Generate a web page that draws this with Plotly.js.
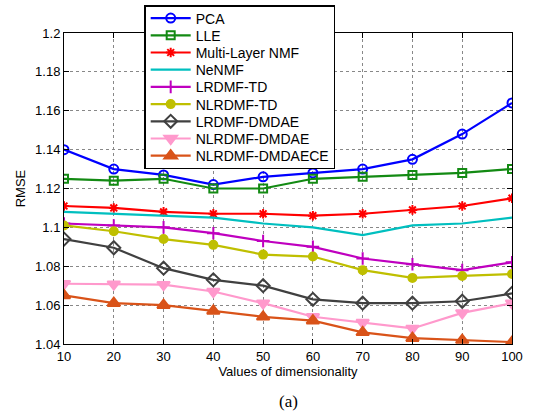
<!DOCTYPE html>
<html>
<head>
<meta charset="utf-8">
<script src="https://cdn.plot.ly/plotly-3.0.1.min.js"></script>
<style>html,body{margin:0;padding:0;background:#fff;}#chart{width:533px;height:416px;}</style>
</head>
<body>
<div id="chart"></div>
<script>
const dims = [10, 20, 30, 40, 50, 60, 70, 80, 90, 100];
const seriesNames = ["PCA", "LLE", "Multi-Layer NMF", "NeNMF", "LRDMF-TD", "NLRDMF-TD", "LRDMF-DMDAE", "NLRDMF-DMDAE", "NLRDMF-DMDAECE"];
const pca = [1.140, 1.130, 1.127, 1.122, 1.126, 1.128, 1.130, 1.135, 1.148, 1.164];
const lle = [1.125, 1.124, 1.125, 1.120, 1.120, 1.125, 1.126, 1.127, 1.128, 1.130];
const mlnmf = [1.111, 1.110, 1.108, 1.107, 1.107, 1.106, 1.107, 1.109, 1.111, 1.115];
const nenmf = [1.108, 1.107, 1.106, 1.105, 1.102, 1.100, 1.096, 1.101, 1.102, 1.105];
const lrdmfTd = [1.102, 1.101, 1.100, 1.097, 1.093, 1.090, 1.084, 1.081, 1.078, 1.082];
const nlrdmfTd = [1.101, 1.098, 1.094, 1.091, 1.086, 1.085, 1.078, 1.074, 1.075, 1.076];
const lrdmfDmdae = [1.094, 1.0895, 1.079, 1.073, 1.070, 1.063, 1.061, 1.061, 1.062, 1.066];
const nlrdmfDmdae = [1.071, 1.0708, 1.0705, 1.067, 1.061, 1.054, 1.051, 1.048, 1.056, 1.061];
const nlrdmfDmdaece = [1.065, 1.061, 1.060, 1.057, 1.054, 1.052, 1.046, 1.043, 1.042, 1.041];
const yTickVals = [1.04, 1.06, 1.08, 1.10, 1.12, 1.14, 1.16, 1.18, 1.20];
const yTickText = ["1.04", "1.06", "1.08", "1.1", "1.12", "1.14", "1.16", "1.18", "1.2"];

const allValues = [pca, lle, mlnmf, nenmf, lrdmfTd, nlrdmfTd, lrdmfDmdae, nlrdmfDmdae, nlrdmfDmdaece];
const styles = [
  {color: "#0000ff", symbol: "circle-open", size: 9, fill: null},
  {color: "#138a13", symbol: "square-open", size: 8, fill: null},
  {color: "#ff0000", symbol: "asterisk-open", size: 8, fill: null},
  {color: "#00bfbf", symbol: null, size: 0, fill: null},
  {color: "#bf00bf", symbol: "cross-thin-open", size: 9, fill: null},
  {color: "#bfbf00", symbol: "circle", size: 8, fill: "#bfbf00"},
  {color: "#404040", symbol: "diamond-open", size: 10, fill: null},
  {color: "#ff99cc", symbol: "triangle-down", size: 11, fill: "#ff99cc"},
  {color: "#d95319", symbol: "triangle-up", size: 11, fill: "#d95319"}
];

const traces = seriesNames.map((name, i) => {
  const s = styles[i];
  const t = {
    x: dims, y: allValues[i], name: name, type: "scatter",
    mode: s.symbol ? "lines+markers" : "lines",
    line: {color: s.color, width: 2.2}
  };
  if (s.symbol) {
    t.marker = {symbol: s.symbol, size: s.size, color: s.fill || s.color,
      line: {color: s.color, width: 2}};
  }
  return t;
});

const axisFont = {family: "Liberation Sans, Arial, sans-serif", size: 13, color: "#000"};
const layout = {
  width: 533, height: 416,
  margin: {l: 64, r: 21, t: 33, b: 72, autoexpand: false},
  paper_bgcolor: "#fff", plot_bgcolor: "#fff",
  showlegend: true,
  font: axisFont,
  xaxis: {
    range: [10, 100], tickvals: dims, ticks: "inside", ticklen: 5, tickcolor: "#000",
    showline: true, linecolor: "#000", linewidth: 1, mirror: "allticks",
    showgrid: true, gridcolor: "#888", griddash: "dot", gridwidth: 1, zeroline: false,
    tickfont: axisFont,
    title: {text: "Values of dimensionality", font: axisFont, standoff: 2}
  },
  yaxis: {
    range: [1.04, 1.20], tickvals: yTickVals, ticktext: yTickText, ticks: "inside", ticklen: 5, tickcolor: "#000",
    showline: true, linecolor: "#000", linewidth: 1, mirror: "allticks",
    showgrid: true, gridcolor: "#888", griddash: "dot", gridwidth: 1, zeroline: false,
    tickfont: axisFont,
    title: {text: "RMSE", font: axisFont, standoff: 6}
  },
  legend: {
    x: 0.179, y: 1.090, xanchor: "left", yanchor: "top",
    bgcolor: "#fff", bordercolor: "#000", borderwidth: 1.5,
    font: {family: "Liberation Sans, Arial, sans-serif", size: 14, color: "#000"},
    tracegroupgap: 0, itemwidth: 40
  },
  annotations: [{
    text: "(a)", xref: "paper", yref: "paper", x: 0.5, y: -0.186, yanchor: "middle", showarrow: false,
    font: {family: "Liberation Serif, DejaVu Serif, serif", size: 17, color: "#000"}
  }]
};

// Tighten legend row spacing to match the reference (Plotly has a minimum row height).
function tightenLegend() {
  const items = Array.from(document.querySelectorAll("#chart .legend .traces"));
  if (!items.length) return;
  const parse = el => {
    const m = /translate\(\s*([-\d.]+)[ ,]+([-\d.]+)\s*\)/.exec(el.getAttribute("transform") || "");
    return m ? [parseFloat(m[1]), parseFloat(m[2])] : [0, 0];
  };
  const first = parse(items[0]);
  const last = parse(items[items.length - 1]);
  const spacing = 17.2, shiftUp = 4;
  items.forEach((el, i) => {
    const p = parse(el);
    el.setAttribute("transform", "translate(" + p[0] + "," + (first[1] - shiftUp + i * spacing) + ")");
  });
  const newLast = first[1] - shiftUp + (items.length - 1) * spacing;
  const reduce = (last[1] - newLast) + shiftUp;
  const bg = document.querySelector("#chart .legend rect.bg");
  if (bg) {
    const h = parseFloat(bg.getAttribute("height"));
    bg.setAttribute("height", h - reduce);
  }
}

Plotly.newPlot("chart", traces, layout, {displayModeBar: false, staticPlot: true}).then(tightenLegend);
</script>
</body>
</html>
